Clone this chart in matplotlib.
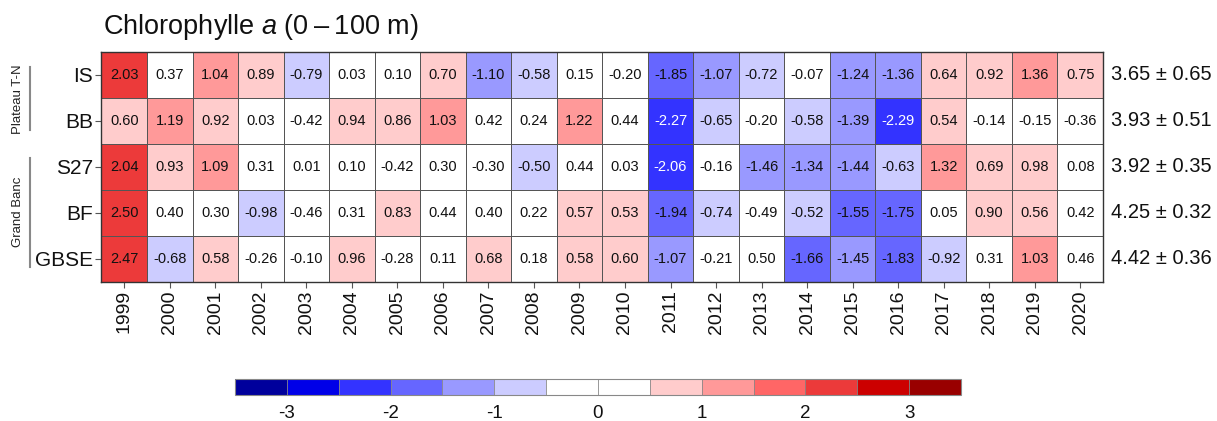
import numpy as np
import matplotlib
matplotlib.use("Agg")
import matplotlib.pyplot as plt
from matplotlib.colors import ListedColormap, BoundaryNorm
from matplotlib.lines import Line2D

plt.rcParams['font.family'] = ['Liberation Sans', 'DejaVu Sans']
plt.rcParams['mathtext.fontset'] = 'custom'
plt.rcParams['mathtext.rm'] = 'Liberation Sans'
plt.rcParams['mathtext.it'] = 'Liberation Sans:italic'
plt.rcParams['axes.unicode_minus'] = False

years = list(range(1999, 2021))
stations = ["IS", "BB", "S27", "BF", "GBSE"]
means = ["3.65 ± 0.65", "3.93 ± 0.51", "3.92 ± 0.35", "4.25 ± 0.32", "4.42 ± 0.36"]

IS = [2.03, 0.37, 1.04, 0.89, -0.79, 0.03, 0.10, 0.70, -1.10, -0.58, 0.15,
      -0.20, -1.85, -1.07, -0.72, -0.07, -1.24, -1.36, 0.64, 0.92, 1.36, 0.75]
BB = [0.60, 1.19, 0.92, 0.03, -0.42, 0.94, 0.86, 1.03, 0.42, 0.24, 1.22,
      0.44, -2.27, -0.65, -0.20, -0.58, -1.39, -2.29, 0.54, -0.14, -0.15, -0.36]
S27 = [2.04, 0.93, 1.09, 0.31, 0.01, 0.10, -0.42, 0.30, -0.30, -0.50, 0.44,
       0.03, -2.06, -0.16, -1.46, -1.34, -1.44, -0.63, 1.32, 0.69, 0.98, 0.08]
BF = [2.50, 0.40, 0.30, -0.98, -0.46, 0.31, 0.83, 0.44, 0.40, 0.22, 0.57,
      0.53, -1.94, -0.74, -0.49, -0.52, -1.55, -1.75, 0.05, 0.90, 0.56, 0.42]
GBSE = [2.47, -0.68, 0.58, -0.26, -0.10, 0.96, -0.28, 0.11, 0.68, 0.18, 0.58,
        0.60, -1.07, -0.21, 0.50, -1.66, -1.45, -1.83, -0.92, 0.31, 1.03, 0.46]

bin_colors = ['#00009C', '#0000E8', '#3333FF', '#6666FF', '#9999FF', '#CCCCFF',
              '#FFFFFF', '#FFFFFF', '#FFCCCC', '#FF9999', '#FF6666', '#EC3A3A',
              '#CC0000', '#990000']
bounds = np.arange(-3.5, 3.51, 0.5)

vals = np.array([IS, BB, S27, BF, GBSE])
# bins closed on the right: (a, b]
idx = np.clip(np.ceil((vals - bounds[0]) / 0.5) - 1, 0, len(bin_colors) - 1)
cmap = ListedColormap(bin_colors)

fig = plt.figure(figsize=(12.17, 4.21), dpi=100)
ax = fig.add_axes([0.0834, 0.3302, 0.8229, 0.5463])
ax.pcolormesh(np.arange(len(years) + 1) - 0.5, np.arange(len(stations) + 1) - 0.5,
              idx, cmap=cmap, vmin=-0.5, vmax=len(bin_colors) - 0.5,
              edgecolor='#555555', linewidth=0.45)
ax.set_xlim(-0.5, len(years) - 0.5)
ax.set_ylim(len(stations) - 0.5, -0.5)

for i in range(len(stations)):
    for j in range(len(years)):
        v = vals[i, j]
        ax.text(j, i, f"{v:.2f}", ha='center', va='center', fontsize=10.5,
                color='white' if v <= -2 else '#111111')
    ax.text(len(years) - 0.5 + 0.17, i, means[i], ha='left', va='center',
            fontsize=14.5, color='#111111')

ax.set_xticks(range(len(years)))
ax.set_xticklabels([str(y) for y in years], rotation=90, fontsize=14, color='#111111')
ax.set_yticks(range(len(stations)))
ax.set_yticklabels(stations, fontsize=15, color='#111111')
ax.tick_params(length=4, width=0.8, color='#555555', pad=2)
for s in ax.spines.values():
    s.set_color('#333333')
    s.set_linewidth(1.0)

fig.text(103 / 1217, 1 - 27 / 421, "Chlorophylle $\\it{a}$ (0\u2009\u2013\u2009100 m)",
         fontsize=19.5, ha='left', va='center', color='#111111')

# station groups
fig.text(18 / 1217, 1 - 99 / 421, "Plateau T-N", rotation=90, fontsize=9.5,
         ha='center', va='center', color='#222222')
fig.text(18 / 1217, 1 - 212 / 421, "Grand Banc", rotation=90, fontsize=9.5,
         ha='center', va='center', color='#222222')
for y0, y1 in [(67, 130), (158, 267)]:
    fig.add_artist(Line2D([30 / 1217, 30 / 1217], [1 - y0 / 421, 1 - y1 / 421],
                          transform=fig.transFigure, color='#888888', linewidth=1.5))

# colour legend
cax = fig.add_axes([235 / 1217, 1 - 395 / 421, 726 / 1217, 16 / 421])
norm = BoundaryNorm(bounds, cmap.N)
sm = plt.cm.ScalarMappable(norm=norm, cmap=cmap)
cb = fig.colorbar(sm, cax=cax, orientation='horizontal', boundaries=bounds,
                  ticks=[-3, -2, -1, 0, 1, 2, 3], drawedges=True)
cb.dividers.set_color('#888888')
cb.dividers.set_linewidth(0.6)
cb.outline.set_edgecolor('#888888')
cb.outline.set_linewidth(0.8)
cax.minorticks_off()
cax.tick_params(which='both', length=0, labelsize=13.5, pad=7, labelcolor='#111111')

fig.savefig("out.png", dpi=100)
